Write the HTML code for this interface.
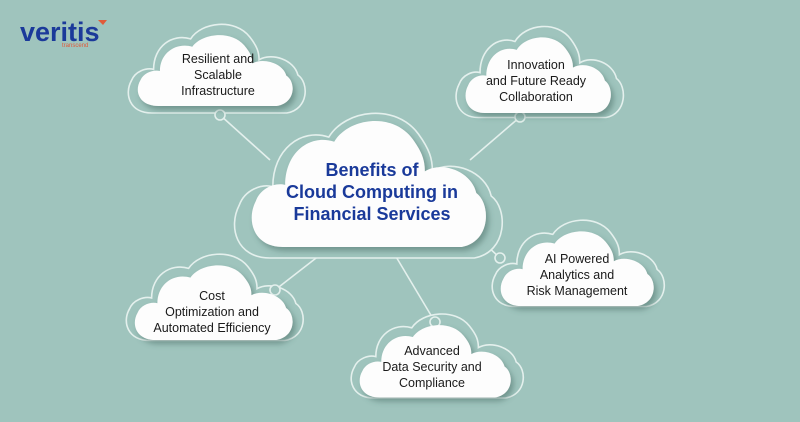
<!DOCTYPE html><html><head><style>
body{margin:0;background:#9fc4bd;}
svg{display:block}
text{font-family:"Liberation Sans",sans-serif;}
</style></head><body>
<svg width="800" height="422" viewBox="0 0 800 422">
<defs>
<path id="c" vector-effect="non-scaling-stroke" d="M15,50 C3,50 0,40 4,33 C6,28 12,26 16,27 C16,15 26,8 36,11 C42,2 60,0 68,10 C72,15 73,18 73,22 C80,18 92,22 94,30 C100,34 100,48 88,50 Z"/>
<filter id="sh" x="-20%" y="-20%" width="140%" height="150%"><feDropShadow dx="3" dy="4" stdDeviation="3" flood-color="#3d5f58" flood-opacity="0.45"/></filter>
</defs>
<rect width="800" height="422" fill="#9fc4bd"/>
<g stroke="#e4f0ed" stroke-width="1.6" fill="none">
<line x1="220" y1="115" x2="270" y2="160"/>
<line x1="520" y1="117" x2="470" y2="160"/>
<line x1="500" y1="258" x2="470" y2="230"/>
<line x1="275" y1="290" x2="320" y2="255"/>
<line x1="435" y1="322" x2="395" y2="255"/>
</g>
<g fill="#9fc4bd" stroke="#e4f0ed" stroke-width="1.6">
<use href="#c" transform="translate(228,103) scale(2.8,3.1)"/>
<use href="#c" transform="translate(124,18) scale(1.85,1.9)"/>
<use href="#c" transform="translate(452,20) scale(1.75,1.95)"/>
<use href="#c" transform="translate(488,214) scale(1.8,1.85)"/>
<use href="#c" transform="translate(122,248) scale(1.85,1.85)"/>
<use href="#c" transform="translate(347,308) scale(1.8,1.8)"/>
</g>
<g fill="#9fc4bd" stroke="#e4f0ed" stroke-width="1.6">
<circle cx="220" cy="115" r="5"/><circle cx="520" cy="117" r="5"/><circle cx="500" cy="258" r="5"/><circle cx="275" cy="290" r="5"/><circle cx="435" cy="322" r="5"/>
</g>
<g fill="#fdfdfd" filter="url(#sh)">
<use href="#c" transform="translate(246,112) scale(2.45,2.7)"/>
<use href="#c" transform="translate(134,30) scale(1.62,1.52)"/>
<use href="#c" transform="translate(462,32) scale(1.52,1.62)"/>
<use href="#c" transform="translate(497,226) scale(1.6,1.6)"/>
<use href="#c" transform="translate(131,260) scale(1.65,1.6)"/>
<use href="#c" transform="translate(356,320) scale(1.58,1.55)"/>
</g>
<g font-size="18" font-weight="bold" fill="#1a3a9a" text-anchor="middle">
<text x="372" y="176">Benefits of</text>
<text x="372" y="198">Cloud Computing in</text>
<text x="372" y="220">Financial Services</text>
</g>
<g font-size="12.5" fill="#1a1a1a" text-anchor="middle">
<text x="218" y="63">Resilient and</text><text x="218" y="79">Scalable</text><text x="218" y="95">Infrastructure</text>
<text x="536" y="69">Innovation</text><text x="536" y="85">and Future Ready</text><text x="536" y="101">Collaboration</text>
<text x="577" y="263">AI Powered</text><text x="577" y="279">Analytics and</text><text x="577" y="295">Risk Management</text>
<text x="212" y="300">Cost</text><text x="212" y="316">Optimization and</text><text x="212" y="332">Automated Efficiency</text>
<text x="432" y="355">Advanced</text><text x="432" y="371">Data Security and</text><text x="432" y="387">Compliance</text>
</g>
<text x="20" y="41" font-size="27" font-weight="bold" fill="#1b3a9a">veritis</text>
<text x="62" y="47" font-size="6" fill="#e05a3a">transcend</text>
<path d="M98,20 l9,0 l-4,5 z" fill="#e05a3a"/>
</svg>
</body></html>
